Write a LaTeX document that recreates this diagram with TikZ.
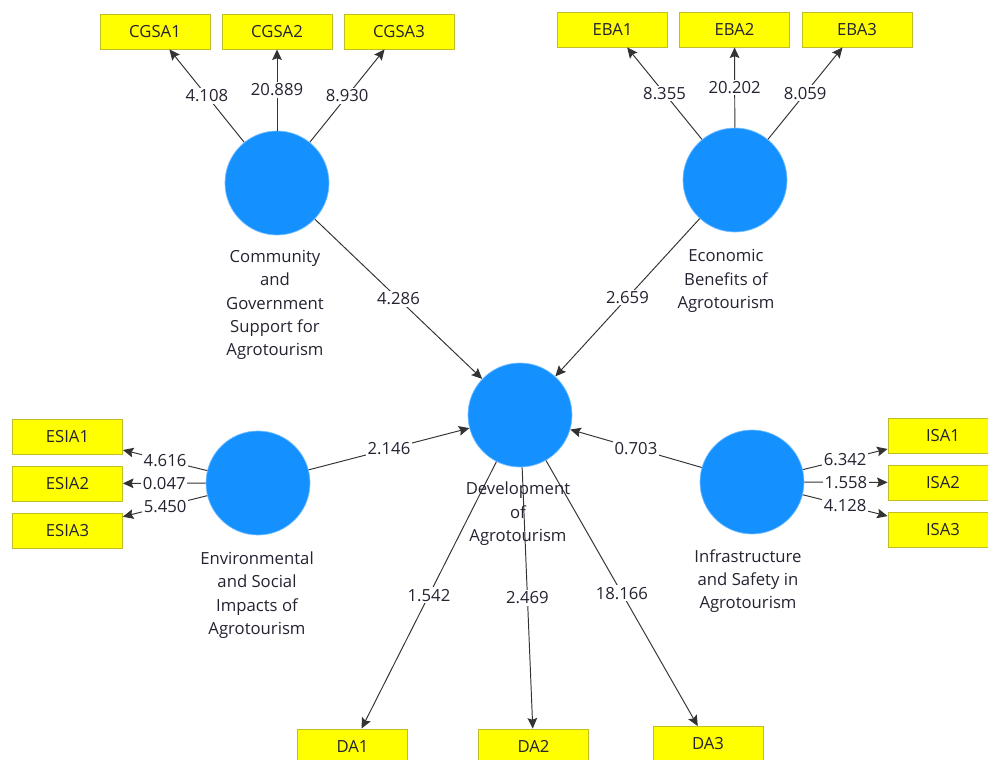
\documentclass[tikz,border=0pt]{standalone}
\usepackage{fontspec}
\setmainfont{Open Sans}
\usepackage{xcolor}
\usepackage{tikz}
\usetikzlibrary{arrows.meta}
\definecolor{lvblue}{RGB}{20,145,255}
\definecolor{mvyellow}{RGB}{255,255,0}
\definecolor{mvedge}{RGB}{190,190,40}
\definecolor{txt}{RGB}{35,35,50}

\tikzset{
  lv/.style={circle, fill=lvblue, draw=lvblue!60!white, line width=0.4pt, minimum size=2.08cm, inner sep=0pt},
  mv/.style={rectangle, fill=mvyellow, draw=mvedge, line width=0.5pt, minimum width=2.2cm, minimum height=0.7cm, inner sep=0pt, text=txt},
  lvname/.style={align=center, text=txt, font=\fontsize{9.5}{13.3}\selectfont},
  path/.style={draw=black!80, line width=0.55pt, -{Stealth[length=6pt,width=5.5pt,inset=1pt]}},
  val/.style={fill=white, inner sep=1pt, text=txt, font=\fontsize{9.5}{11}\selectfont}
}

\begin{document}
\begin{tikzpicture}[x=0.02cm, y=-0.02cm, font=\fontsize{9.5}{11}\selectfont]
    \useasboundingbox (0,0) rectangle (988,760);

    % Latent variables
    \node[lv] (cgs)  at (277,183) {};
    \node[lv] (eba)  at (735,180) {};
    \node[lv] (da)   at (520,415) {};
    \node[lv] (esia) at (258,483) {};
    \node[lv] (isa)  at (752,482) {};

    % Names of the latent variables
    \node[lvname] (cgsname)  at (275,305) {Community\\and\\Government\\Support for\\Agrotourism};
    \node[lvname] (ebaname)  at (726,281) {Economic\\Benefits of\\Agrotourism};
    \node[lvname] (esianame) at (257,595) {Environmental\\and Social\\Impacts of\\Agrotourism};
    \node[lvname] (isaname)  at (748,581) {Infrastructure\\and Safety in\\Agrotourism};

    % Indicators
    \node[mv] (cgsa1) at (155,31.5) {CGSA1};
    \node[mv] (cgsa2) at (277,31.5) {CGSA2};
    \node[mv] (cgsa3) at (399,31.5) {CGSA3};
    \node[mv] (eba1) at (612.5,29.5) {EBA1};
    \node[mv] (eba2) at (734.5,29.5) {EBA2};
    \node[mv] (eba3) at (857,29.5) {EBA3};
    \node[mv] (esia1) at (67.5,436.5) {ESIA1};
    \node[mv] (esia2) at (67.5,483.5) {ESIA2};
    \node[mv] (esia3) at (67.5,530.5) {ESIA3};
    \node[mv] (isa1) at (943,435.5) {ISA1};
    \node[mv] (isa2) at (943,482.5) {ISA2};
    \node[mv] (isa3) at (943,530) {ISA3};
    \node[mv] (da1) at (352.5,746.5) {DA1};
    \node[mv] (da2) at (533.5,746.5) {DA2};
    \node[mv] (da3) at (708,744) {DA3};

    % Outer model
    \foreach \t/\v in {cgsa1/4.108, cgsa2/20.889, cgsa3/8.930}
        \draw[path] (cgs) -- node[val] {\v} (\t);
    \foreach \t/\v in {eba1/8.355, eba2/20.202, eba3/8.059}
        \draw[path] (eba) -- node[val] {\v} (\t);
    \foreach \t/\v in {esia1/4.616, esia2/0.047, esia3/5.450}
        \draw[path] (esia) -- node[val] {\v} (\t);
    \foreach \t/\v in {isa1/6.342, isa2/1.558, isa3/4.128}
        \draw[path] (isa) -- node[val] {\v} (\t);
    \foreach \t/\v in {da1/1.542, da2/2.469, da3/18.166}
        \draw[path] (da) -- node[val] {\v} (\t);

    % Inner model
    \draw[path] (cgs) -- node[val] {4.286} (da);
    \draw[path] (eba) -- node[val] {2.659} (da);
    \draw[path] (esia) -- node[val] {2.146} (da);
    \draw[path] (isa) -- node[val] {0.703} (da);

    % Name of the target variable, over its lines
    \node[lvname] (daname) at (518,514) {Development\\of\\Agrotourism};
\end{tikzpicture}
\end{document}
